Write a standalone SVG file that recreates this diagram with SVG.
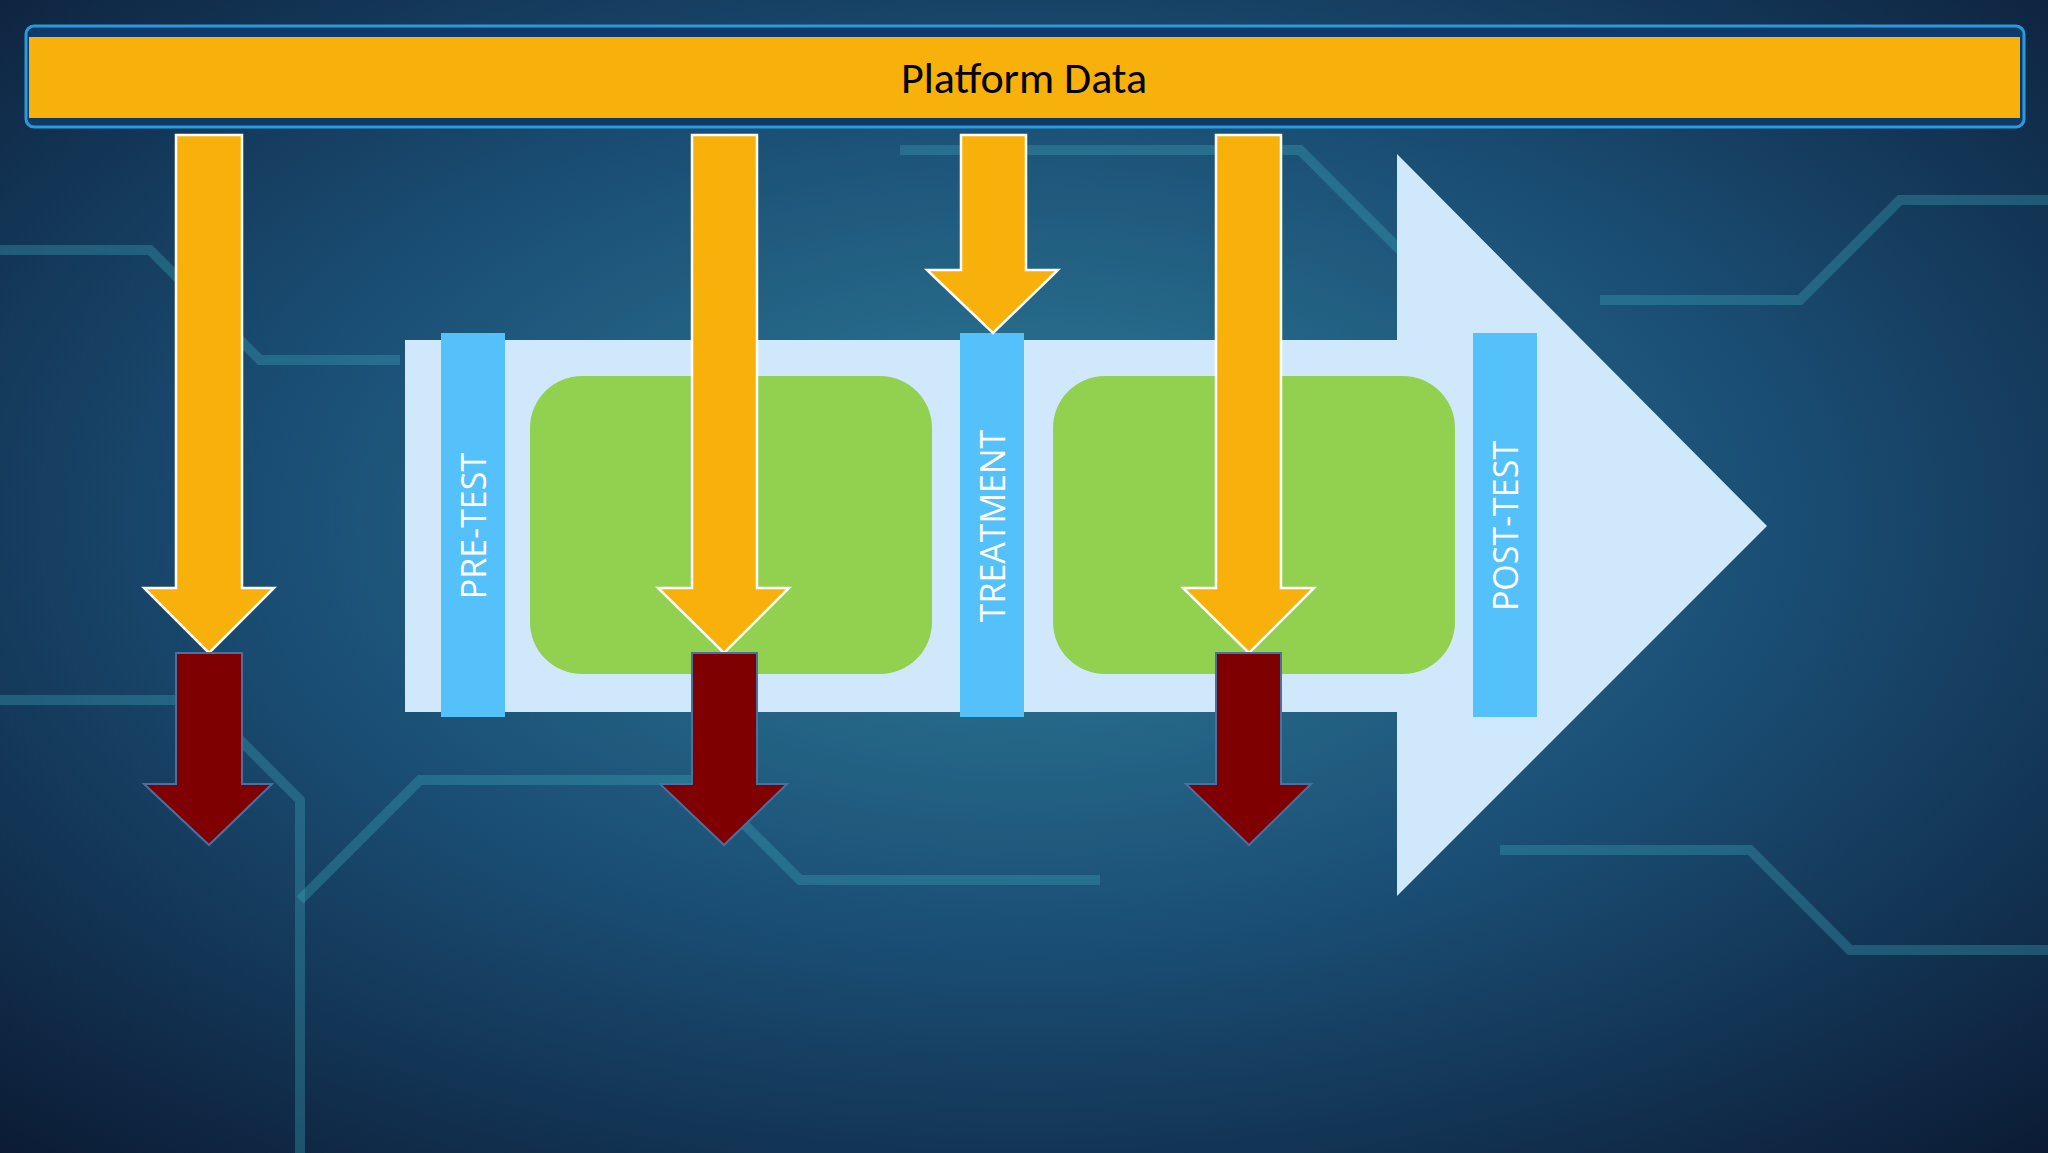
<svg xmlns="http://www.w3.org/2000/svg" width="2048" height="1153" viewBox="0 0 2048 1153">
<defs>
<radialGradient id="bg" cx="0.5" cy="0.45" r="0.75">
<stop offset="0" stop-color="#2f7f9a"/>
<stop offset="0.5" stop-color="#1a4d73"/>
<stop offset="1" stop-color="#0b1a33"/>
</radialGradient>
<style>
.orange{fill:#f8b00a;stroke:#ffffff;stroke-width:2.5}
.red{fill:#7f0000;stroke:#4a6fa0;stroke-width:2}
.bar{fill:#55c1fb}
.green{fill:#92d050}
.lbl{font-family:"Open Sans","Liberation Sans",sans-serif;font-size:34px;fill:#ffffff;text-anchor:middle;dominant-baseline:central}
.trace{fill:none;stroke:#3aa6b8;stroke-opacity:0.35;stroke-width:10}
</style>
</defs>
<rect width="2048" height="1153" fill="url(#bg)"/>
<g id="background-traces">
<path class="trace" d="M0 250 H150 L260 360 H400"/>
<path class="trace" d="M1600 300 H1800 L1900 200 H2048"/>
<path class="trace" d="M300 900 L420 780 H700 L800 880 H1100"/>
<path class="trace" d="M1500 850 H1750 L1850 950 H2048"/>
<path class="trace" d="M900 150 H1300 L1400 250"/>
<path class="trace" d="M0 700 H200 L300 800 V1153"/>
</g>
<g id="platform-data">
<rect x="26" y="26" width="1998" height="101" rx="8" fill="#0d3a6b" stroke="#2a9ad8" stroke-width="3"/>
<rect x="29" y="37" width="1991" height="81" fill="#f8b00a"/>
<text x="1024" y="78" font-family="Calibri,'Open Sans','Liberation Sans',sans-serif" font-size="44" fill="#000" text-anchor="middle" dominant-baseline="central">Platform Data</text>
</g>
<g id="process-arrow">
<polygon points="405,340 1397,340 1397,154 1767,526 1397,896 1397,712 405,712" fill="#d0e8fb"/>
</g>
<g id="green-box-1"><rect class="green" x="530" y="376" width="402" height="298" rx="52"/></g>
<g id="green-box-2"><rect class="green" x="1053" y="376" width="402" height="298" rx="52"/></g>
<g id="pre-test"><rect class="bar" x="441" y="333" width="64" height="384"/><text class="lbl" transform="translate(473 526) rotate(-90)">PRE-TEST</text></g>
<g id="treatment"><rect class="bar" x="960" y="333" width="64" height="384"/><text class="lbl" transform="translate(992 526) rotate(-90)">TREATMENT</text></g>
<g id="post-test"><rect class="bar" x="1473" y="333" width="64" height="384"/><text class="lbl" transform="translate(1505 526) rotate(-90)">POST-TEST</text></g>
<g id="connectors">
<polygon class="orange" points="176,135 242,135 242,588 274,588 209,653 144,588 176,588"/>
<polygon class="orange" points="692,135 757,135 757,588 789,588 724,653 658,588 692,588"/>
<polygon class="orange" points="961,135 1026,135 1026,270 1058,270 993,333 927,270 961,270"/>
<polygon class="orange" points="1216,135 1281,135 1281,588 1314,588 1249,653 1183,588 1216,588"/>
<polygon class="red" points="176,653 242,653 242,784 272,784 209,845 144,784 176,784"/>
<polygon class="red" points="692,653 757,653 757,784 787,784 724,845 660,784 692,784"/>
<polygon class="red" points="1216,653 1281,653 1281,784 1311,784 1249,845 1186,784 1216,784"/>
</g>
</svg>
